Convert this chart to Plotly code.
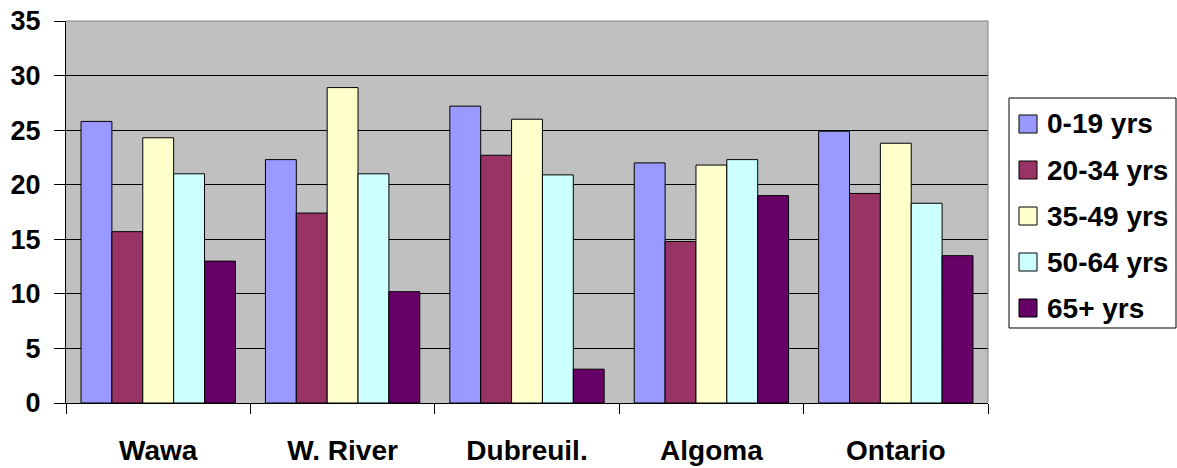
import plotly.graph_objects as go

categories = ["Wawa", "W. River", "Dubreuil.", "Algoma", "Ontario"]
series_names = ["0-19 yrs", "20-34 yrs", "35-49 yrs", "50-64 yrs", "65+ yrs"]
v_0_19 = [25.8, 22.3, 27.2, 22.0, 24.9]
v_20_34 = [15.7, 17.4, 22.7, 14.8, 19.2]
v_35_49 = [24.3, 28.9, 26.0, 21.8, 23.8]
v_50_64 = [21.0, 21.0, 20.9, 22.3, 18.3]
v_65_plus = [13.0, 10.2, 3.1, 19.0, 13.5]
y_ticks = [0, 5, 10, 15, 20, 25, 30, 35]

series_values = [v_0_19, v_20_34, v_35_49, v_50_64, v_65_plus]
colors = ["#9999FF", "#993366", "#FFFFCC", "#CCFFFF", "#660066"]

W, H = 1177, 468
L, R, T, B = 66, 988, 21, 403  # plot area pixel bounds

def px(x):
    return (x - L) / (R - L)

def py(y):
    return (B - y) / (B - T)

FONT = "Liberation Sans, Arial, sans-serif"

fig = go.Figure()
for name, vals, col in zip(series_names, series_values, colors):
    fig.add_trace(go.Bar(
        x=categories, y=vals, name=name,
        marker=dict(color=col, line=dict(color="black", width=1)),
        showlegend=False,
    ))

fig.update_layout(
    width=W, height=H,
    margin=dict(l=L, r=W - R, t=T, b=H - B, pad=0, autoexpand=False),
    paper_bgcolor="white",
    plot_bgcolor="#C0C0C0",
    barmode="group",
    bargap=0.163,
    bargroupgap=0,
    font=dict(family=FONT, size=27, color="black", weight="bold"),
    xaxis=dict(
        type="category", automargin=False,
        showline=True, linecolor="black", linewidth=1,
        ticks="outside", tickson="boundaries", ticklen=10, tickcolor="black",
        showgrid=False,
        tickfont=dict(family=FONT, size=28, color="black", weight="bold"),
        ticklabelstandoff=22,
    ),
    yaxis=dict(
        range=[0, 35], tickvals=y_ticks, automargin=False,
        showline=True, linecolor="black", linewidth=1,
        ticks="outside", ticklen=11, tickcolor="black",
        showgrid=True, gridcolor="black", gridwidth=1,
        zeroline=False,
        tickfont=dict(family=FONT, size=27, color="black", weight="bold"),
        ticklabelstandoff=8,
    ),
)

# plot area top/right border in gray
fig.add_shape(type="line", xref="paper", yref="paper", x0=0, x1=1, y0=1, y1=1,
              line=dict(color="#808080", width=1), layer="above")
fig.add_shape(type="line", xref="paper", yref="paper", x0=1, x1=1, y0=0, y1=1,
              line=dict(color="#808080", width=1), layer="above")

# manual legend
fig.add_shape(type="rect", xref="paper", yref="paper",
              x0=px(1009), x1=px(1176), y0=py(98), y1=py(328),
              line=dict(color="black", width=1), fillcolor="white", layer="above")
for i, (name, col) in enumerate(zip(series_names, colors)):
    cy = 124 + 46 * i
    fig.add_shape(type="rect", xref="paper", yref="paper",
                  x0=px(1019), x1=px(1037), y0=py(cy - 9), y1=py(cy + 9),
                  line=dict(color="black", width=1), fillcolor=col, layer="above")
    fig.add_annotation(xref="paper", yref="paper", x=px(1045), y=py(cy),
                       text=name, showarrow=False, xanchor="left", yanchor="middle",
                       font=dict(family=FONT, size=28, color="black", weight="bold"))

fig.write_html("out.html",
               config={"displayModeBar": False},
               post_script="document.body.style.margin='0';document.body.style.overflow='hidden';")
